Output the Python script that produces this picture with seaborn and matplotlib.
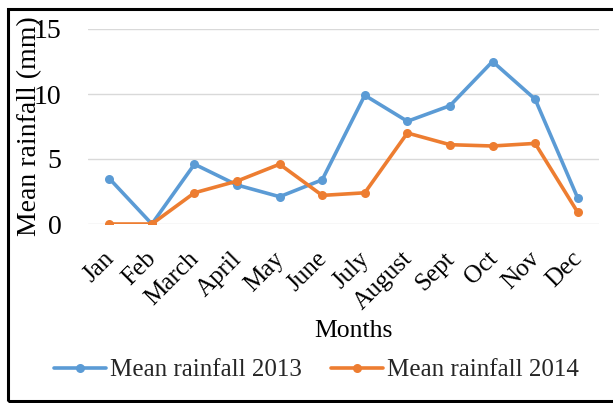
import matplotlib
matplotlib.use("Agg")
import matplotlib.pyplot as plt
import matplotlib.transforms as mtransforms
import seaborn as sns
import pandas as pd
from matplotlib.patches import Rectangle

months = ["Jan", "Feb", "March", "April", "May", "June", "July",
          "August", "Sept", "Oct", "Nov", "Dec"]
rain_2013 = [3.5, 0.0, 4.6, 3.0, 2.1, 3.4, 9.9, 7.9, 9.1, 12.5, 9.6, 2.0]
rain_2014 = [0.0, 0.0, 2.4, 3.3, 4.6, 2.2, 2.4, 7.0, 6.1, 6.0, 6.2, 0.9]
series_names = ["Mean rainfall 2013", "Mean rainfall 2014"]
colors = ["#5B9BD5", "#ED7D31"]
y_ticks = [0, 5, 10, 15]

df = pd.DataFrame({
    "Month": months * 2,
    "Rainfall": rain_2013 + rain_2014,
    "Series": [series_names[0]] * len(months) + [series_names[1]] * len(months),
})

sns.set_theme(style="white")
plt.rcParams["font.family"] = ["Liberation Serif", "DejaVu Serif"]

fig = plt.figure(figsize=(6.13, 4.03), dpi=100)
ax = fig.add_axes([88 / 613, 1 - 224 / 403, 511 / 613, 195 / 403])

sns.lineplot(data=df, x="Month", y="Rainfall", hue="Series", palette=colors,
             marker="o", markersize=6.5, markeredgewidth=0, linewidth=2.6,
             sort=False, ax=ax)

ax.set_xlim(-0.5, len(months) - 0.5)
ax.set_ylim(0, 15)
ax.set_yticks(y_ticks)
ax.grid(axis="y", color="#d9d9d9", linewidth=1.0)
ax.set_axisbelow(True)
for s in ax.spines.values():
    s.set_visible(False)

ax.tick_params(axis="y", length=0, pad=19, labelsize=20, labelcolor="black")
ax.tick_params(axis="x", length=0, pad=17, labelsize=18, labelcolor="black")
shift = mtransforms.ScaledTranslation(9 / 100, 0, fig.dpi_scale_trans)
for lbl in ax.get_xticklabels():
    lbl.set_rotation(45)
    lbl.set_ha("right")
    lbl.set_va("top")
    lbl.set_transform(lbl.get_transform() + shift)

ax.set_ylabel("Mean rainfall (mm)", fontsize=20, color="black")
ax.yaxis.set_label_coords(-0.09, 0.5)
ax.set_xlabel("Months", fontsize=18.5, color="black")
ax.xaxis.set_label_coords(0.52, -0.49)

handles, labels = ax.get_legend_handles_labels()
ax.get_legend().remove()
fig.legend(handles, labels, loc="center", bbox_to_anchor=(316.5 / 613, 1 - 370 / 403),
           ncol=2, frameon=False, fontsize=18, handlelength=2.1,
           handletextpad=0.15, columnspacing=1.15)

fig.patches.append(Rectangle((7.5 / 613, 2.5 / 403), 1.1, (403 - 11) / 403,
                             transform=fig.transFigure, fill=False,
                             edgecolor="black", linewidth=2.2))

fig.savefig("out.png", dpi=100, facecolor="white")
